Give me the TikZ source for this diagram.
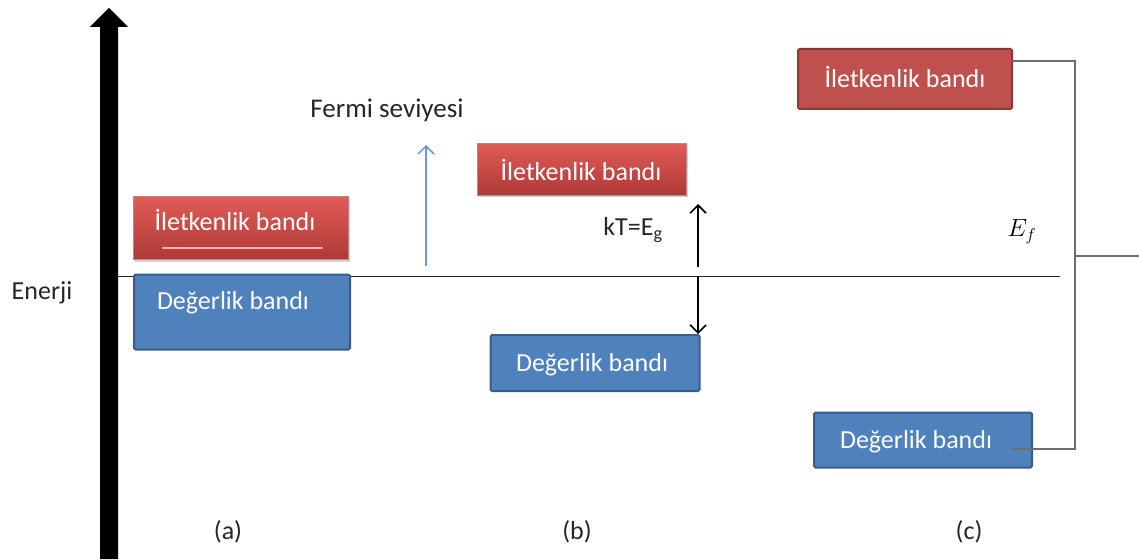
\documentclass[tikz,border=0pt]{standalone}
\usepackage{fontspec}
\setmainfont{Carlito}
\usetikzlibrary{arrows.meta,shadows}
\definecolor{redf}{HTML}{C0504D}
\definecolor{redd}{HTML}{8C3836}
\definecolor{redt}{HTML}{E25B57}
\definecolor{redb}{HTML}{AE3936}
\definecolor{bluef}{HTML}{4F81BD}
\definecolor{blued}{HTML}{385D8A}
\definecolor{fermiblue}{HTML}{6A98D4}
\definecolor{brgray}{HTML}{6E6E6E}
\tikzset{
  bandtext/.style={text=white, font=\fontsize{26}{28}\selectfont},
  redshade/.style={bandtext, draw=redd!60, line width=0.8pt, top color=redt, bottom color=redb, drop shadow={shadow xshift=1pt, shadow yshift=-2pt, opacity=0.35}},
  redflat/.style={bandtext, draw=redd, line width=2pt, fill=redf, rounded corners=1.5pt},
  bluebox/.style={bandtext, draw=blued, line width=2pt, fill=bluef, rounded corners=1.5pt},
  lbl/.style={font=\fontsize{26}{28}\selectfont, text=black!85},
  kt/.style={line width=1.6pt, -{Straight Barb[length=8pt,width=16pt]}},
}
\begin{document}
\begin{tikzpicture}[x=1pt,y=-1pt]
\useasboundingbox (0,0) rectangle (1139,559);
% energy axis
\fill[black] (100,559) -- (100,27) -- (90,27) -- (109,8) -- (128,27) -- (118,27) -- (118,559) -- cycle;
\node[lbl] (enerji) at (42,293) {Enerji};
% Fermi line
\coordinate (fl) at (118,276);
\coordinate (fr) at (1060,276);
\draw[line width=1pt, black!85] (fl) -- (fr);
% (a)
\node[redshade, minimum width=215pt, minimum height=63pt, inner sep=0pt] (ra) at (241,228) {};
\node[bandtext] (rat) at (235,220) {İletkenlik bandı};
\coordinate (hla) at (163,248);
\coordinate (hlb) at (322,248);
\draw[line width=2.2pt, redt!45!white, line cap=round] (hla) -- (hlb);
\node[bluebox, minimum width=216pt, minimum height=75pt, inner sep=0pt] (ba) at (242,312) {};
\node[bandtext] (bat) at (233,303) {Değerlik bandı};
% Fermi arrow
\coordinate (fa1) at (426,266);
\coordinate (fa2) at (426,145);
\draw[fermiblue, line width=1.5pt, -{Straight Barb[length=8pt,width=16pt]}] (fa1) -- (fa2);
\node[lbl, font=\fontsize{27}{29}\selectfont] (fermi) at (387,110) {Fermi seviyesi};
% (b)
\node[redshade, minimum width=209pt, minimum height=52pt, inner sep=0pt] (rb) at (582,169) {};
\node[bandtext] (rbt) at (581,170) {İletkenlik bandı};
\node[bluebox, minimum width=209pt, minimum height=56pt, inner sep=0pt] (bb) at (595,363) {};
\node[bandtext] (bbt) at (592,365) {Değerlik bandı};
\node[lbl] (kt) at (633,230) {kT=E\textsubscript{g}};
\coordinate (k0) at (698,276);
\coordinate (k1) at (698,204);
\coordinate (k2) at (698,334);
\coordinate (k3) at (698,267);
\draw[kt] (k3) -- (k1);
\draw[kt] (k0) -- (k2);
% (c)
\node[redflat, minimum width=214pt, minimum height=60pt, inner sep=0pt] (rc) at (905,79) {};
\node[bandtext] (rct) at (905,77) {İletkenlik bandı};
\node[bluebox, minimum width=218pt, minimum height=55pt, inner sep=0pt] (bc) at (923,440) {};
\node[bandtext] (bct) at (916,442) {Değerlik bandı};
\node[font=\fontsize{24}{26}\selectfont] (ef) at (1022,232) {$E_f$};
\coordinate (c1) at (1012,61);
\coordinate (c2) at (1075,61);
\coordinate (c3) at (1075,449);
\coordinate (c4) at (1012,449);
\coordinate (c5) at (1075,256);
\coordinate (c6) at (1139,256);
\draw[brgray, line width=1.5pt] (c1) -- (c2) -- (c3) -- (c4);
\draw[brgray, line width=1.5pt] (c5) -- (c6);
% labels
\node[lbl] (la) at (228,532) {(a)};
\node[lbl] (lb) at (577,532) {(b)};
\node[lbl] (lc) at (969,532) {(c)};
\end{tikzpicture}
\end{document}
